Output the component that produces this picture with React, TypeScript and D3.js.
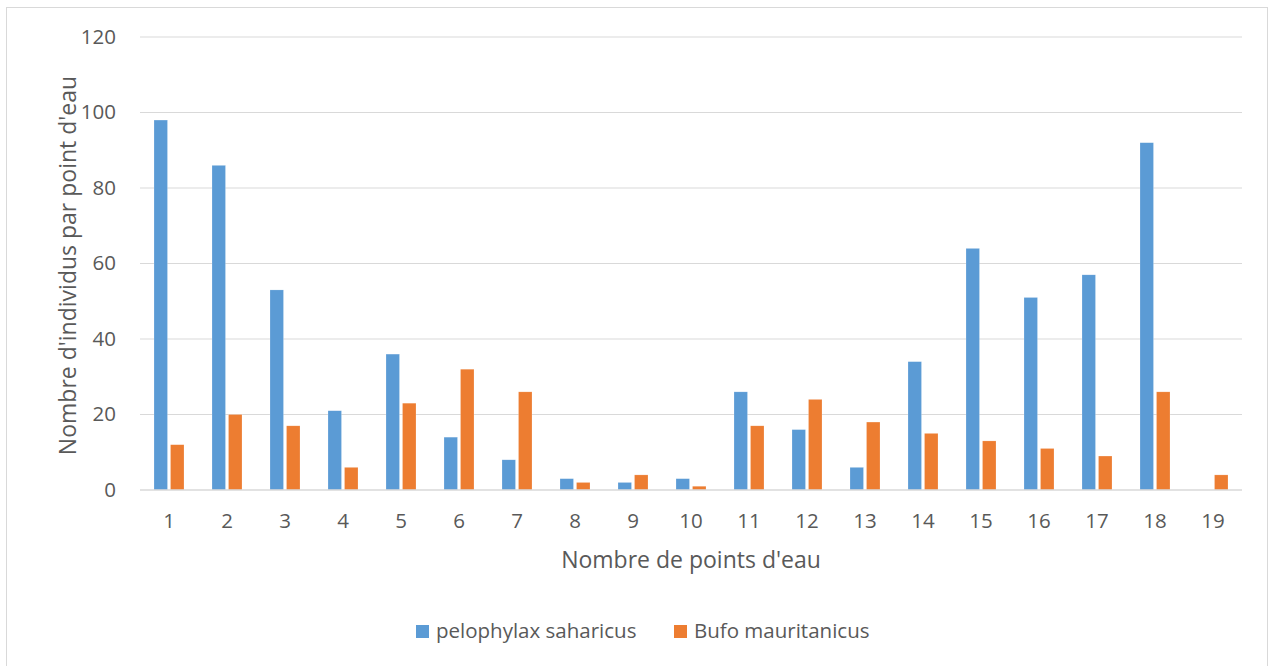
import React from "react";
import * as d3 from "d3";

const categories = ["1","2","3","4","5","6","7","8","9","10","11","12","13","14","15","16","17","18","19"];
const pelophylax = [98, 86, 53, 21, 36, 14, 8, 3, 2, 3, 26, 16, 6, 34, 64, 51, 57, 92, 0];
const bufo = [12, 20, 17, 6, 23, 32, 26, 2, 4, 1, 17, 24, 18, 15, 13, 11, 9, 26, 4];
const yTicks = [0, 20, 40, 60, 80, 100, 120];
const seriesNames = ["pelophylax saharicus", "Bufo mauritanicus"];
const colors = ["#5B9BD5", "#ED7D31"];

export default function App() {
  const W = 1271, H = 666;
  const left = 140, right = 1242, top = 37, bottom = 490;
  const x = d3.scaleBand().domain(categories).range([left, right]).padding(0);
  const y = d3.scaleLinear().domain([0, 120]).range([bottom, top]);
  const bw = 13.5, gap = 3;
  const font = "'Open Sans', 'Liberation Sans', sans-serif";
  const series = [pelophylax, bufo];
  return (
    <svg width={W} height={H} style={{ position: "absolute", left: 0, top: 0 }} fontFamily={font}>
      <rect x={0} y={0} width={W} height={H} fill="#fff" />
      <rect x={6.5} y={7.5} width={1261} height={660} fill="none" stroke="#D9D9D9" strokeWidth={1} />
      {yTicks.map((t) => (
        <g key={t}>
          {t !== 0 && <line x1={left} x2={right} y1={y(t)} y2={y(t)} stroke="#D9D9D9" strokeWidth={1} />}
          <text x={116} y={y(t)} dy="0.33em" textAnchor="end" fontSize={20.5} fill="#595959">{t}</text>
        </g>
      ))}
      {series.map((vals, si) =>
        vals.map((v, i) => {
          const c = x(categories[i])! + x.bandwidth() / 2;
          const bx = si === 0 ? c - gap / 2 - bw : c + gap / 2;
          const h = bottom - y(v);
          if (v <= 0) return null;
          return <rect key={si + "-" + i} x={bx} y={y(v)} width={bw} height={h} fill={colors[si]} stroke="#fff" strokeOpacity={0.4} strokeWidth={0.5} />;
        })
      )}
      <line x1={left} x2={right} y1={bottom} y2={bottom} stroke="#D9D9D9" strokeWidth={1.5} />
      {categories.map((c) => (
        <text key={c} x={x(c)! + x.bandwidth() / 2} y={521} dy="0.35em" textAnchor="middle" fontSize={20.5} fill="#595959">{c}</text>
      ))}
      <text x={(left + right) / 2} y={560} dy="0.35em" textAnchor="middle" fontSize={23} fill="#595959">Nombre de points d'eau</text>
      <text transform={`translate(68,${(top + bottom) / 2 + 2}) rotate(-90)`} dy="0.35em" textAnchor="middle" fontSize={23} fill="#595959">Nombre d'individus par point d'eau</text>
      <g>
        <rect x={416} y={625} width={13} height={13} fill={colors[0]} />
        <text x={436} y={631} dy="0.35em" fontSize={20.5} fill="#595959">{seriesNames[0]}</text>
        <rect x={674} y={625} width={13} height={13} fill={colors[1]} />
        <text x={694} y={631} dy="0.35em" fontSize={20.5} fill="#595959">{seriesNames[1]}</text>
      </g>
    </svg>
  );
}
